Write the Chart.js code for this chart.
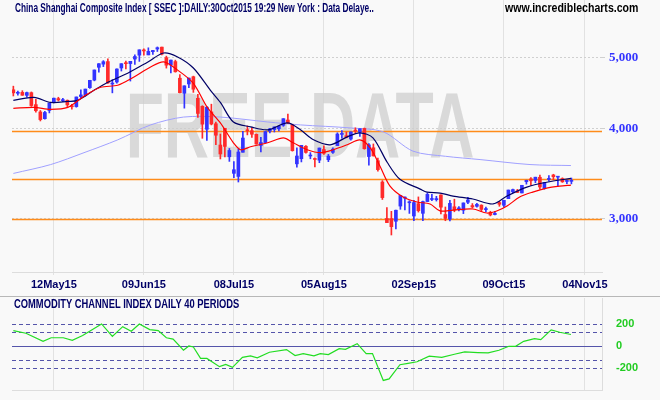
<!DOCTYPE html>
<html><head><meta charset="utf-8">
<script src="https://cdn.jsdelivr.net/npm/chart.js@4.4.0/dist/chart.umd.min.js"></script>
<style>
html,body{margin:0;padding:0;background:#f9f9f9;width:660px;height:400px;overflow:hidden}
#m{position:absolute;left:0;top:0;width:660px;height:290px}
#c{position:absolute;left:0;top:295px;width:660px;height:104px}
</style></head><body>
<div id="m"><canvas id="cm"></canvas></div>
<div id="c"><canvas id="cc"></canvas></div>
<script>
// Trading-day tick labels (index -> label)
const tickIdx = [9, 29, 49, 69, 89, 109, 127];
const tickLabels = ["12May15","09Jun15","08Jul15","05Aug15","02Sep15","09Oct15","04Nov15"];
const priceTicks = [3000, 4000, 5000];
const levels = [3960, 3410, 3000];
// OHLC, one row per trading day from 28Apr15 to 30Oct15
const opens = [4520,4470,4483,4441,4479,4312,4213,4124,4233,4340,4395,4367,4372,4294,4285,4424,4440,4550,4661,4854,4903,4943,4603,4633,4844,4924,4912,4983,5045,5114,5049,5101,5144,5175,5005,4890,4943,4689,4471,4604,4711,4399,4289,3987,4214,4058,3793,4000,3654,3467,3433,3707,3980,3970,3924,3788,3823,3964,3984,3994,4038,4106,4045,3573,3632,3778,3663,3629,3615,3739,3620,3706,3786,3923,3907,3866,3976,3950,3998,3657,3760,3609,3373,3004,3003,2978,3125,3205,3158,3028,3149,3054,3170,3191,3189,3237,3042,2999,3118,3097,3084,3163,3130,3123,3134,3090,3063,3042,3160,3133,3199,3269,3279,3258,3376,3407,3390,3424,3304,3400,3449,3425,3410,3379,3380];
const highs = [4572,4500,4507,4488,4489,4386,4232,4221,4333,4402,4414,4399,4376,4317,4418,4520,4530,4658,4813,4911,4958,4986,4668,4829,4911,4951,4947,5052,5131,5147,5164,5123,5178,5176,5029,4968,4966,4744,4577,4691,4720,4456,4297,4286,4318,4080,3928,4000,3752,3600,3748,3960,4030,4010,3929,3886,3960,4000,4018,4030,4124,4185,4051,3758,3789,3786,3703,3643,3757,3782,3682,3758,3943,3970,3953,3955,4006,3994,4003,3811,3806,3640,3388,3110,3073,3085,3233,3217,3178,3183,3217,3174,3256,3243,3223,3238,3116,3182,3194,3119,3157,3213,3150,3153,3138,3114,3074,3073,3172,3183,3288,3297,3295,3338,3393,3422,3425,3448,3370,3443,3457,3434,3418,3395,3416];
const lows = [4432,4443,4441,4415,4287,4211,4094,4116,4200,4335,4362,4352,4285,4250,4277,4404,4430,4540,4650,4780,4865,4611,4476,4616,4797,4831,4647,4898,4946,5045,5050,5058,5104,5048,4842,4767,4780,4476,4264,4552,4483,4139,3875,3848,4043,3796,3629,3653,3601,3421,3373,3707,3917,3886,3803,3712,3822,3941,3953,3967,4025,4060,3720,3537,3595,3695,3631,3538,3586,3683,3598,3693,3786,3875,3881,3851,3936,3899,3743,3558,3662,3490,3191,2964,2851,2906,3093,3086,3053,2983,3066,2983,3170,3178,3175,3049,2983,2982,3069,3078,3051,3148,3105,3114,3070,3067,3029,3039,3123,3115,3199,3260,3262,3258,3350,3336,3365,3296,3297,3383,3397,3332,3369,3354,3353];
const closes = [4476,4477,4442,4480,4299,4229,4112,4206,4333,4401,4376,4378,4308,4283,4418,4447,4530,4658,4813,4910,4941,4620,4612,4828,4910,4910,4947,5023,5131,5113,5106,5121,5166,5062,4887,4967,4786,4478,4577,4691,4528,4193,4053,4277,4054,3913,3687,3776,3728,3507,3710,3878,3970,3925,3806,3823,3958,3993,4017,4027,4124,4071,3726,3663,3789,3705,3664,3623,3757,3695,3662,3744,3928,3928,3887,3954,3965,3994,3749,3795,3665,3508,3210,2965,2927,3084,3232,3206,3166,3160,3080,3170,3243,3197,3200,3114,3005,3152,3086,3097,3156,3186,3116,3142,3092,3100,3038,3053,3143,3183,3288,3293,3263,3338,3391,3386,3425,3320,3369,3412,3430,3434,3375,3387,3382];
// Moving averages: [day index, value]
const maShort = [[0,4261],[4.6,4274],[8.3,4248],[12.1,4274],[15.7,4427],[19.4,4556],[23.2,4585],[26.7,4703],[30.5,4859],[33.4,4937],[36.5,4811],[40,4614],[43.1,4274],[46,4068],[48.9,3820],[50.5,3737],[52.7,3772],[56.5,3820],[60,3881],[62.2,3820],[65.3,3737],[68.2,3702],[71.1,3737],[74.2,3796],[77,3856],[79.3,3760],[81.5,3543],[83.7,3329],[86.6,3216],[89.7,3166],[92.6,3146],[94.8,3077],[97.7,3086],[102.1,3096],[105.2,3057],[107.4,3077],[109.7,3126],[112.5,3216],[115.4,3267],[118.5,3308],[121.4,3329],[123.9,3340]];
const maMid = [[0,4370],[4.6,4413],[8.3,4342],[12.1,4356],[14.3,4370],[17.9,4512],[21,4629],[25.4,4764],[29.9,4937],[33.4,5080],[36.5,5016],[40,4843],[43.8,4512],[46,4342],[48.9,4081],[52.7,4018],[56.5,3980],[60.9,4068],[63.8,3980],[66.7,3856],[70.4,3796],[74.2,3893],[77,3943],[79.9,3881],[83.1,3588],[85.9,3402],[90.4,3298],[91.9,3267],[94.8,3257],[97.7,3226],[102.1,3196],[106.6,3146],[109.7,3226],[114.1,3319],[118.5,3370],[123.9,3413]];
const maLong = [[0,3466],[8.3,3565],[15.7,3702],[23.2,3856],[30.5,4043],[37.8,4145],[46,4145],[56.5,4081],[63.8,4043],[74.8,4005],[82.2,3955],[88.8,3720],[96,3660],[103.7,3622],[114.8,3565],[123.9,3554]];
// CCI 40
const cciX = [0,2.8,6.6,8.4,11.1,13.1,15.4,19.6,22,24.3,26.2,28,30.3,32.2,34,35.5,37.8,39,40,41.6,43,45.8,47.2,48.7,50.9,52.7,54.2,56.9,60.7,62.6,64.4,66.8,68.2,70,72.4,73.8,76.4,78.4,79.8,82.2,83.5,85.9,87.7,89.7,92.4,95.2,98,100.3,103.2,105.5,107.9,110.1,111.6,113.4,115.8,117.2,119.5,121.4,123.9];
const cciY = [140,116,42,75,75,51,96,200,87,176,134,200,149,140,75,63,-39,0,-9,-113,-113,-188,-167,-194,-104,-90,-107,-57,-33,-87,-69,-90,-69,-78,-24,-30,21,-69,-69,-313,-299,-170,-158,-143,-93,-104,-75,-54,-60,-63,-39,-3,-3,42,66,57,146,125,104];
const cciLevels = [200,130,0,-130,-200];
const cciTicks = [-200,0,200];

const UP='#3333ff', DN='#ff2a2a';
const XMIN=-0.3, XMAX=130.8;
const bodies = opens.map((o,i)=>({x:i,y:[o,closes[i]]}));
const wicks = highs.map((h,i)=>({x:i,y:[lows[i],h]}));
const col = opens.map((o,i)=>closes[i]>=o?UP:DN);
const pts = a=>a.map(p=>({x:p[0],y:p[1]}));

const xTicks = (tickIdx, showLabels)=>({
  type:'linear',min:XMIN,max:XMAX,offset:false,
  afterBuildTicks:ax=>{ax.ticks=tickIdx.map(v=>({value:v}));},
  afterFit:ax=>{if(showLabels)ax.height=18;},
  ticks:{display:showLabels,autoSkip:false,maxRotation:0,padding:3,color:'#000066',font:{family:'Liberation Sans, Arial',size:11,weight:'bold'},
    callback:v=>{const k=tickIdx.indexOf(v);return k>=0?tickLabels[k]:'';}},
  grid:{color:'#e2e2e2',offset:false,drawTicks:showLabels,tickLength:3},
  border:{color:'#dddddd'}
});
const yFit = ax=>{ax.width=58;ax.paddingTop=0;ax.paddingBottom=0;};

function narrowText(c,txt,x,y,sx){c.save();c.translate(x,y);c.scale(sx,1);c.fillText(txt,0,0);c.restore();}

const mainPlugin={id:'mp',
  beforeDatasetsDraw(ch){
    const c=ch.ctx,a=ch.chartArea,y=ch.scales.y;
    c.save();
    c.fillStyle='rgba(205,205,205,0.75)';
    c.font='bold 92px "Liberation Sans", Arial';
    c.textAlign='center';c.textBaseline='middle';
    narrowText(c,'FREE DATA',300,132,0.68);
    c.strokeStyle='#ff8c1a';c.lineWidth=1.5;
    levels.forEach(l=>{const py=Math.round(y.getPixelForValue(l))+0.5;c.beginPath();c.moveTo(a.left,py);c.lineTo(a.right,py);c.stroke();});
    c.restore();
  },
  afterDraw(ch){
    const c=ch.ctx;c.save();
    c.textBaseline='middle';
    c.font='bold 12px "Liberation Sans", Arial';
    c.fillStyle='#000066';
    narrowText(c,'China Shanghai Composite Index [ SSEC ]:DAILY:30Oct2015 19:29 New York : Data Delaye..',15,9,0.69);
    c.fillStyle='#000000';
    narrowText(c,'www.incrediblecharts.com',505,9,0.88);
    c.restore();
  }
};

new Chart(document.getElementById('cm'),{
  data:{datasets:[
    {type:'line',data:pts(maLong),borderColor:'#a0a0ff',borderWidth:1,pointRadius:0,tension:0.3,order:5},
    {type:'bar',data:wicks,backgroundColor:col,barThickness:1,grouped:false,order:3},
    {type:'bar',data:bodies,backgroundColor:col,barThickness:3,minBarLength:1,grouped:false,order:2},
    {type:'line',data:pts(maMid),borderColor:'#000066',borderWidth:1.2,pointRadius:0,tension:0.3,order:1},
    {type:'line',data:pts(maShort),borderColor:'#ff0000',borderWidth:1.2,pointRadius:0,tension:0.3,order:0}
  ]},
  options:{responsive:true,maintainAspectRatio:false,animation:false,
    layout:{padding:{left:12,top:0,right:0,bottom:0}},
    plugins:{legend:{display:false},tooltip:{enabled:false}},
    scales:{
      x:xTicks(tickIdx,true),
      y:{type:'logarithmic',position:'right',min:2535,max:6010,
        afterBuildTicks:ax=>{ax.ticks=priceTicks.map(v=>({value:v}));},
        afterFit:yFit,
        ticks:{color:'#3333ff',padding:4,font:{family:'Liberation Serif, Times New Roman',size:13,weight:'bold'},callback:v=>v.toLocaleString('en-US')},
        grid:{color:'#d0d0d0',drawTicks:true,tickLength:3},border:{display:false,dash:[2,2]}}
    }},
  plugins:[mainPlugin]
});

const cciPlugin={id:'cp',
  beforeDatasetsDraw(ch){
    const c=ch.ctx,a=ch.chartArea,y=ch.scales.y;c.save();
    c.strokeStyle='#b8b8b8';c.lineWidth=1;
    c.beginPath();c.moveTo(0,1.5);c.lineTo(660,1.5);c.stroke();
    c.strokeStyle='#5555aa';
    cciLevels.forEach(l=>{const py=Math.round(y.getPixelForValue(l))+0.5;c.setLineDash(l===0?[]:[4,3]);c.beginPath();c.moveTo(a.left,py);c.lineTo(a.right,py);c.stroke();});
    c.setLineDash([]);
    c.fillStyle='#000066';c.textBaseline='middle';
    c.font='bold 12px "Liberation Sans", Arial';
    narrowText(c,'COMMODITY CHANNEL INDEX DAILY 40 PERIODS',14,10,0.78);
    c.restore();
  }
};
new Chart(document.getElementById('cc'),{
  type:'line',
  data:{datasets:[{data:cciX.map((x,i)=>({x:x,y:cciY[i]})),borderColor:'#22dd22',borderWidth:1.2,pointRadius:0,tension:0}]},
  options:{responsive:true,maintainAspectRatio:false,animation:false,
    layout:{padding:{left:12,top:3,right:0,bottom:9}},
    plugins:{legend:{display:false},tooltip:{enabled:false}},
    scales:{
      x:xTicks(tickIdx,false),
      y:{position:'right',min:-400,max:436,
        afterBuildTicks:ax=>{ax.ticks=cciTicks.map(v=>({value:v}));},
        afterFit:yFit,
        ticks:{color:'#22cc22',padding:6,font:{family:'Liberation Sans, Arial',size:11,weight:'bold'}},
        grid:{display:false},border:{color:'#dddddd'}}
    }},
  plugins:[cciPlugin]
});
</script></body></html>
